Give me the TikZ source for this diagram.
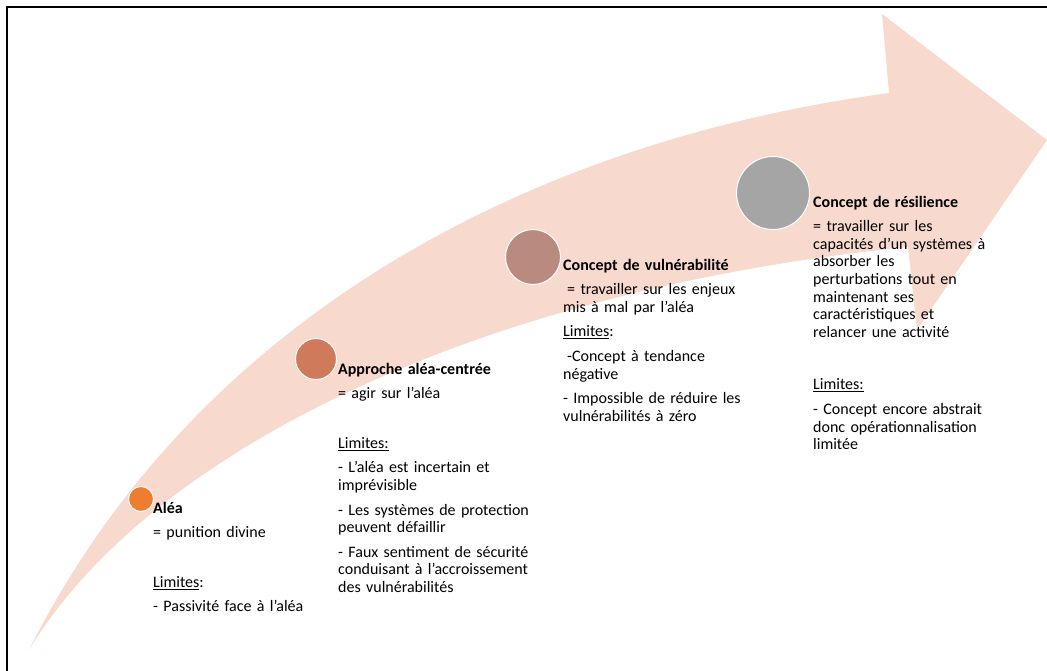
\documentclass[tikz,border=0pt]{standalone}
\usepackage{fontspec}
\setmainfont{Carlito}
\definecolor{arrowpink}{HTML}{F8D9CE}
\definecolor{aleaorange}{HTML}{ED7D31}
\definecolor{approchered}{HTML}{D07A5C}
\definecolor{vulnbrown}{HTML}{B98A80}
\definecolor{resilgrey}{HTML}{A5A5A5}
\tikzset{
  stagedot/.style={circle, draw=white, line width=1pt, inner sep=0pt},
  stagetext/.style={anchor=base west, inner sep=0pt, text width=230pt, align=left,
    font=\fontsize{16}{17.6}\selectfont}
}

\begin{document}
\begin{tikzpicture} [x=1pt, y=-1pt]
\useasboundingbox (0,0) rectangle (1047,670);
% big curved arrow
\fill[arrowpink] (29,650) .. controls (200,310) and (540,140) .. (889,93) -- (882,14) -- (1047,140) -- (917,330) -- (908,247) .. controls (480,290) and (150,450) .. (29,650) -- cycle;
\draw[black, line width=1.5pt] (7,672) -- (7,7) -- (1049,7);

% stages
\node[stagedot, fill=aleaorange, minimum size=25pt] (alea) at (141,499) {};
\node[stagedot, fill=approchered, minimum size=41pt] (approche) at (316,359) {};
\node[stagedot, fill=vulnbrown, minimum size=55pt] (vuln) at (533,257) {};
\node[stagedot, fill=resilgrey, minimum size=73pt] (resil) at (773,193) {};

\node[stagetext] (aleatxt) at (153,513) {\textbf{Aléa}\\[7pt]
= punition divine\\[32pt]
\underline{Limites}:\\[7pt]
- Passivité face à l’aléa};

\node[stagetext] (approchetxt) at (338,374) {\textbf{Approche aléa-centrée}\\[7pt]
= agir sur l’aléa\\[32pt]
\underline{Limites:}\\[7pt]
- L’aléa est incertain et\\
imprévisible\\[7pt]
- Les systèmes de protection\\
peuvent défaillir\\[7pt]
- Faux sentiment de sécurité\\
conduisant à l’accroissement\\
des vulnérabilités};

\node[stagetext] (vulntxt) at (563,270) {\textbf{Concept de vulnérabilité}\\[7pt]
\hspace*{4pt}= travailler sur les enjeux\\
mis à mal par l’aléa\\[7pt]
\underline{Limites}:\\[7pt]
\hspace*{4pt}-Concept à tendance\\
négative\\[7pt]
- Impossible de réduire les\\
vulnérabilités à zéro};

\node[stagetext] (resiltxt) at (813,207) {\textbf{Concept de résilience}\\[7pt]
= travailler sur les\\
capacités d’un systèmes à\\
absorber les\\
perturbations tout en\\
maintenant ses\\
caractéristiques et\\
relancer une activité\\[35pt]
\underline{Limites:}\\[7pt]
- Concept encore abstrait\\
donc opérationnalisation\\
limitée};
\end{tikzpicture}
\end{document}
